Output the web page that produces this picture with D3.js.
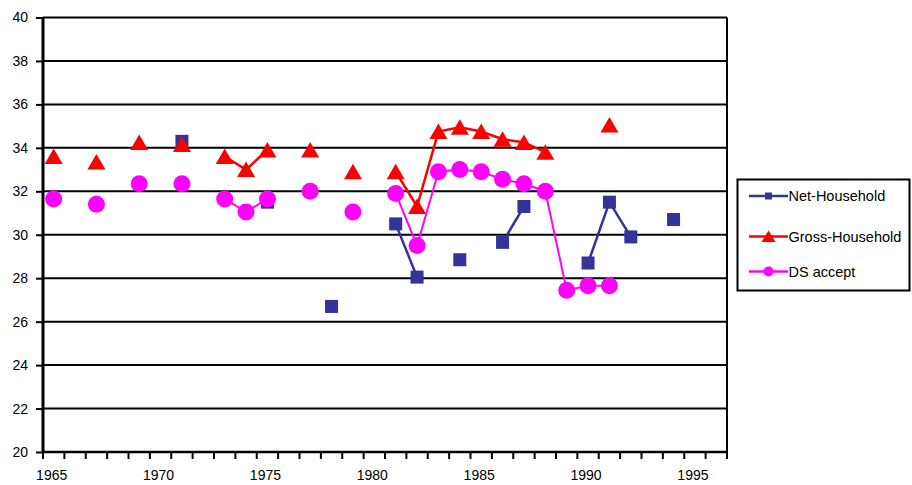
<!DOCTYPE html>
<html><head><meta charset="utf-8">
<script src="https://cdn.jsdelivr.net/npm/d3@7"></script>
<style>body{margin:0;background:#fff}svg{display:block}text{font-family:"Liberation Sans",Arial,sans-serif;fill:#000}</style>
</head><body><svg id="c" width="912" height="485"></svg>
<script>
const years = d3.range(1965, 1997);
const yTicks = [20,22,24,26,28,30,32,34,36,38,40];
const xLabels = [1965,1970,1975,1980,1985,1990,1995];
const seriesNames = ["Net-Household","Gross-Household","DS accept"];
const netValues = [null,null,null,null,null,null,34.3,null,null,null,31.5,null,null,26.7,null,null,30.5,28.05,null,28.85,null,29.65,31.3,null,null,28.7,31.5,29.9,null,30.7,null,null];
const grossValues = [33.6,null,33.35,null,34.25,null,34.15,null,33.6,33.0,33.9,null,33.9,null,32.9,null,32.9,31.3,34.75,34.95,34.75,34.4,34.25,33.8,null,null,35.05,null,null,null,null,null];
const dsValues = [31.65,null,31.4,null,32.35,null,32.35,null,31.65,31.05,31.65,null,32.0,null,31.05,null,31.9,29.5,32.9,33.0,32.9,32.55,32.35,32.0,27.45,27.65,27.65,null,null,null,null,null];

const svg = d3.select("#c");
const L = 43, R = 727, T = 17.5, B = 452;
const x = d3.scaleBand().domain(years).range([L, R]).padding(0);
const y = d3.scaleLinear().domain([20, 40]).range([B, T]);
const cx = yr => x(yr) + x.bandwidth() / 2;

// gridlines
svg.append("g").selectAll("line").data(yTicks.filter(v => v > 20)).join("line")
  .attr("x1", L).attr("x2", R).attr("y1", d => y(d)).attr("y2", d => y(d))
  .attr("stroke", "#000").attr("stroke-width", 2);
// right border
svg.append("line").attr("x1", R).attr("x2", R).attr("y1", T).attr("y2", B).attr("stroke", "#000").attr("stroke-width", 2);

// y axis
const ya = svg.append("g").attr("transform", `translate(${L},0)`)
  .call(d3.axisLeft(y).tickValues(yTicks).tickSize(7).tickPadding(8).tickFormat(d3.format("d")));
ya.select(".domain").remove();
ya.selectAll(".tick line").attr("stroke", "#000").attr("stroke-width", 2);
ya.selectAll("text").style("font-size", "14px").attr("font-family", null);
svg.append("line").attr("x1", L).attr("x2", L).attr("y1", T).attr("y2", B + 1).attr("stroke", "#000").attr("stroke-width", 3);

// x axis
const boundaries = d3.range(1965, 1998);
const xb = d3.scaleLinear().domain([1965, 1997]).range([L, R]);
svg.append("g").selectAll("line").data(boundaries).join("line")
  .attr("x1", d => xb(d)).attr("x2", d => xb(d)).attr("y1", B).attr("y2", B + 7)
  .attr("stroke", "#000").attr("stroke-width", 2);
const xa = svg.append("g").attr("transform", `translate(-2,${B})`)
  .call(d3.axisBottom(x).tickValues(xLabels).tickSize(0).tickPadding(18));
xa.select(".domain").remove();
xa.selectAll("text").style("font-size", "14px").attr("font-family", null);
svg.append("line").attr("x1", L - 1).attr("x2", R + 1).attr("y1", B).attr("y2", B).attr("stroke", "#000").attr("stroke-width", 2.5);

const colors = ["#333399", "#FF0000", "#FF00FF"];
const allValues = [netValues, grossValues, dsValues];
const line = d3.line().defined(d => d[1] != null).x(d => cx(d[0])).y(d => y(d[1]));
const tri = "M0,-8L9,7.5L-9,7.5Z";

function marker(g, i) {
  if (i === 0) g.append("rect").attr("x", -6.5).attr("y", -6.5).attr("width", 13).attr("height", 13).attr("fill", colors[0]);
  else if (i === 1) g.append("path").attr("d", tri).attr("fill", colors[1]);
  else g.append("circle").attr("r", 8.5).attr("fill", colors[2]);
}

allValues.forEach((vals, i) => {
  const pts = years.map((yr, k) => [yr, vals[k]]);
  svg.append("path").datum(pts).attr("d", line).attr("fill", "none")
    .attr("stroke", colors[i]).attr("stroke-width", i === 2 ? 2 : 2.5);
  const g = svg.append("g");
  pts.filter(d => d[1] != null).forEach(d => {
    const m = g.append("g").attr("transform", `translate(${cx(d[0])},${y(d[1])})`);
    marker(m, i);
  });
});

// legend
const lg = svg.append("g");
lg.append("rect").attr("x", 737.5).attr("y", 179.5).attr("width", 172).attr("height", 111)
  .attr("fill", "#fff").attr("stroke", "#000").attr("stroke-width", 2);
const ly = [196, 236.5, 271.5];
seriesNames.forEach((n, i) => {
  lg.append("line").attr("x1", 749).attr("x2", 788).attr("y1", ly[i]).attr("y2", ly[i])
    .attr("stroke", colors[i]).attr("stroke-width", 2.5);
  const m = lg.append("g").attr("transform", `translate(768.5,${ly[i]})`);
  if (i === 0) m.append("rect").attr("x", -3.5).attr("y", -3.5).attr("width", 7).attr("height", 7).attr("fill", colors[0]);
  else if (i === 1) m.append("path").attr("d", "M0,-6L7,5.5L-7,5.5Z").attr("fill", colors[1]);
  else m.append("circle").attr("r", 5).attr("fill", colors[2]);
  lg.append("text").attr("x", 788.5).attr("y", ly[i]).attr("dy", "0.35em").style("font-size", "14.5px").text(n);
});
</script></body></html>
